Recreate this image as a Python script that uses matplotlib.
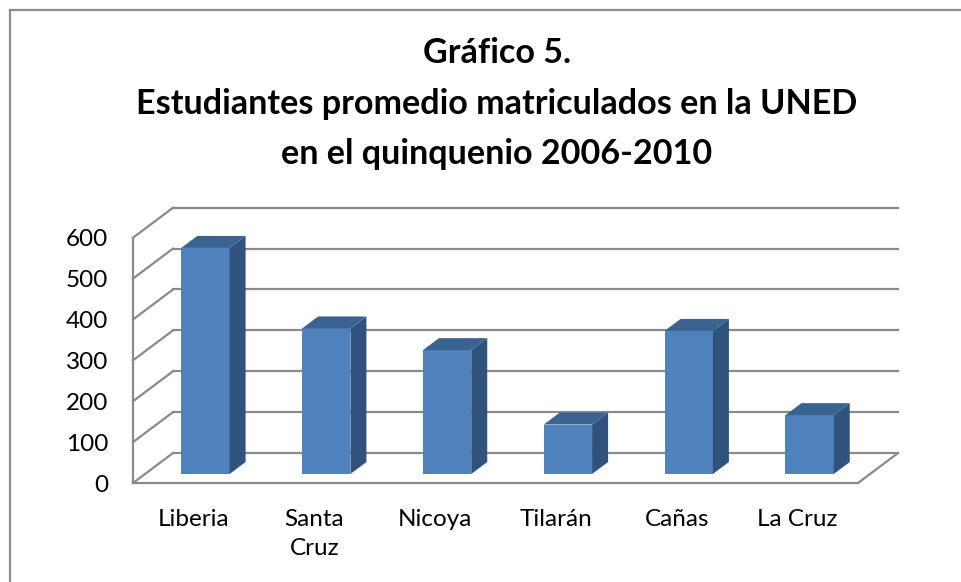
import matplotlib
matplotlib.use("Agg")
import matplotlib.pyplot as plt
from matplotlib.patches import Polygon
from matplotlib.lines import Line2D

categories = ["Liberia", "Santa\nCruz", "Nicoya", "Tilarán", "Cañas", "La Cruz"]
values = [553, 356, 303, 121, 350, 144]
yticks = [0, 100, 200, 300, 400, 500, 600]
title_lines = ["Gráfico 5.", "Estudiantes promedio matriculados en la UNED",
               "en el quinquenio 2006-2010"]

plt.rcParams['font.family'] = ['Lato', 'DejaVu Sans']

W, H = 961, 582
fig = plt.figure(figsize=(W / 100, H / 100), dpi=100)
fig.patch.set_facecolor("white")

# axes placed at the front plane of the 3D box
ax = fig.add_axes([133 / W, 99 / H, 725 / W, 245.3 / H])
ax.set_xlim(0, len(categories))
ax.set_ylim(0, 600)
for s in ax.spines.values():
    s.set_visible(False)
ax.patch.set_alpha(0)

# oblique depth offsets (full depth) in data units
DX = 0.331
DY = 73.3
grid_c = "#8a8a8a"
lw = 1.6
top_v = yticks[-1]
n = len(categories)

# left wall
ax.add_line(Line2D([0, 0], [0, top_v], color=grid_c, lw=lw, clip_on=False, zorder=1))
for v in yticks:
    ax.add_line(Line2D([0, DX], [v, v + DY], color=grid_c, lw=lw, clip_on=False, zorder=1))
    ax.add_line(Line2D([DX, n + DX], [v + DY, v + DY], color=grid_c, lw=lw,
                       clip_on=False, zorder=1))
# floor
ax.add_line(Line2D([0, n], [0, 0], color=grid_c, lw=lw, clip_on=False, zorder=1))
ax.add_line(Line2D([n, n + DX], [0, DY], color=grid_c, lw=lw, clip_on=False, zorder=1))

# bars
d0, d1 = 0.3, 0.7
bw = 0.4
front_c = "#4F81BD"
top_c = "#3B6392"
side_c = "#30527C"
for i, v in enumerate(values):
    xc = i + 0.5 + d0 * DX
    yb = d0 * DY
    ax.bar(xc, v, width=bw, bottom=yb, color=front_c, edgecolor="none",
           zorder=3, clip_on=False)
    ddx = (d1 - d0) * DX
    ddy = (d1 - d0) * DY
    xl, xr = xc - bw / 2, xc + bw / 2
    yt = yb + v
    side = Polygon([[xr, yb], [xr + ddx, yb + ddy], [xr + ddx, yt + ddy], [xr, yt]],
                   closed=True, facecolor=side_c, edgecolor="none", zorder=3, clip_on=False)
    top = Polygon([[xl, yt], [xr, yt], [xr + ddx, yt + ddy], [xl + ddx, yt + ddy]],
                  closed=True, facecolor=top_c, edgecolor="none", zorder=3, clip_on=False)
    ax.add_patch(side)
    ax.add_patch(top)

ax.set_yticks(yticks)
ax.set_yticklabels([str(v) for v in yticks])
ax.set_xticks([i + 0.5 for i in range(n)])
ax.set_xticklabels(categories, linespacing=1.45)
ax.tick_params(axis="y", length=0, pad=18, labelsize=17.5, labelcolor="black")
ax.tick_params(axis="x", length=0, pad=19, labelsize=17.5, labelcolor="black")

# title
baselines = [63, 114, 164]
for t, b in zip(title_lines, baselines):
    fig.text(497 / W, 1 - b / H, t, ha="center", va="baseline",
             fontsize=24.6, fontweight="bold", color="black")

# chart border
fig.add_artist(Line2D([9.5 / W, 1.0], [1 - 10 / H, 1 - 10 / H], color="#8c8c8c",
                      lw=1.6, transform=fig.transFigure))
fig.add_artist(Line2D([9.5 / W, 9.5 / W], [0, 1 - 10 / H], color="#8c8c8c",
                      lw=1.6, transform=fig.transFigure))

fig.savefig("out.png", dpi=100, facecolor="white")
